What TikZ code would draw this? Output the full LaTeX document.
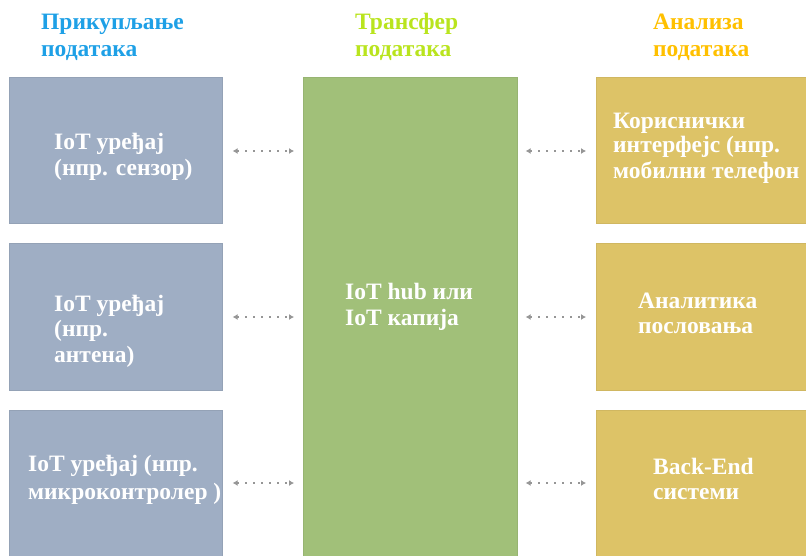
\documentclass[tikz,border=0pt]{standalone}
\usepackage{fontspec}
\setmainfont{Liberation Serif}
\usetikzlibrary{arrows.meta}
\definecolor{hdrblue}{RGB}{30,160,230}
\definecolor{hdrgreen}{RGB}{185,228,30}
\definecolor{hdrgold}{RGB}{255,192,0}
\definecolor{boxblue}{RGB}{159,174,196}
\definecolor{boxgreen}{RGB}{161,192,121}
\definecolor{boxgold}{RGB}{221,195,103}
\definecolor{conngray}{RGB}{150,150,150}
\tikzset{
  box/.style={rectangle, anchor=north west, inner sep=0pt, line width=0.6pt},
  bluebox/.style={box, fill=boxblue, draw=boxblue!93!black},
  greenbox/.style={box, fill=boxgreen, draw=boxgreen!94!black},
  goldbox/.style={box, fill=boxgold, draw=boxgold!94!black},
  hdr/.style={anchor=base west, inner sep=0pt, font=\fontsize{23.5}{26}\selectfont\bfseries},
  txt/.style={anchor=base west, inner sep=0pt, text=white, font=\fontsize{23.5}{26}\selectfont\bfseries},
  conn/.style={conngray, line width=1.8pt, dash pattern=on 1.8pt off 6.2pt,
    {Latex[length=5pt,width=6pt]}-{Latex[length=5pt,width=6pt]}}
}
\begin{document}
\begin{tikzpicture}[x=1pt,y=-1pt]
\useasboundingbox (0,0) rectangle (806,555);
% headers
\node[hdr, text=hdrblue] (h1a) at (41,29) {Прикупљање};
\node[hdr, text=hdrblue] (h1b) at (41,56) {података};
\node[hdr, text=hdrgreen] (h2a) at (355,29) {Трансфер};
\node[hdr, text=hdrgreen] (h2b) at (355,56) {података};
\node[hdr, text=hdrgold] (h3a) at (653,29) {Анализа};
\node[hdr, text=hdrgold] (h3b) at (653,56) {података};
% left boxes
\node[bluebox, minimum width=213pt, minimum height=146pt] (l1) at (9,77) {};
\node[bluebox, minimum width=213pt, minimum height=147pt] (l2) at (9,243) {};
\node[bluebox, minimum width=213pt, minimum height=152pt] (l3) at (9,410) {};
% hub
\node[greenbox, minimum width=214pt, minimum height=485pt] (hub) at (303,77) {};
% right boxes
\node[goldbox, minimum width=240pt, minimum height=146pt] (r1) at (596,77) {};
\node[goldbox, minimum width=240pt, minimum height=147pt] (r2) at (596,243) {};
\node[goldbox, minimum width=240pt, minimum height=152pt] (r3) at (596,410) {};
% texts
\node[txt] (t1a) at (54,149) {IoT уређај};
\node[txt] (t1b) at (54,175) {(нпр. сензор)};
\node[txt] (t2a) at (54,311) {IoT уређај};
\node[txt] (t2b) at (54,336) {(нпр.};
\node[txt] (t2c) at (54,362) {антена)};
\node[txt] (t3a) at (28,471) {IoT уређај (нпр.};
\node[txt] (t3b) at (28,499) {микроконтролер )};
\node[txt] (thA) at (345,299) {IoT hub или};
\node[txt] (thB) at (345,325) {IoT капија};
\node[txt] (r1a) at (613,128) {Кориснички};
\node[txt] (r1b) at (613,152) {интерфејс (нпр.};
\node[txt] (r1c) at (613,178) {мобилни телефон};
\node[txt] (r2a) at (638,308) {Аналитика};
\node[txt] (r2b) at (638,333) {пословања};
\node[txt] (r3a) at (653,474) {Back-End};
\node[txt] (r3b) at (653,499) {системи};
% connectors
\coordinate (c1) at (0,151);
\coordinate (c2) at (0,317);
\coordinate (c3) at (0,483);
\draw[conn, shorten <=10pt, shorten >=9pt] (l1.east |- c1) -- (hub.west |- c1);
\draw[conn, shorten <=10pt, shorten >=9pt] (l2.east |- c2) -- (hub.west |- c2);
\draw[conn, shorten <=10pt, shorten >=9pt] (l3.east |- c3) -- (hub.west |- c3);
\draw[conn, shorten <=8pt, shorten >=10pt] (hub.east |- c1) -- (r1.west |- c1);
\draw[conn, shorten <=8pt, shorten >=10pt] (hub.east |- c2) -- (r2.west |- c2);
\draw[conn, shorten <=8pt, shorten >=10pt] (hub.east |- c3) -- (r3.west |- c3);
\end{tikzpicture}
\end{document}
